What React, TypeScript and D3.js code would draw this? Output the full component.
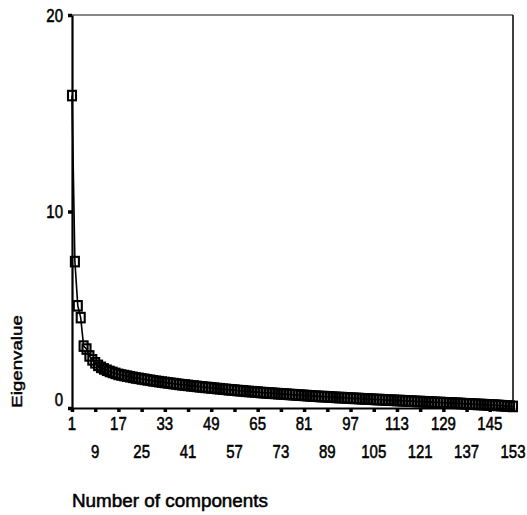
import React, { useEffect, useRef } from 'react';
import * as d3 from 'd3';

// eigenvalues, component 1..153
const eigenvalues: number[] = [
	15.9, 7.45, 5.2, 4.6, 3.15, 3.0, 2.65, 2.45, 2.3, 2.17,
	2.07, 1.99, 1.92, 1.86, 1.81, 1.76, 1.71, 1.68, 1.65, 1.62,
	1.59, 1.56, 1.53, 1.51, 1.48, 1.46, 1.43, 1.41, 1.38, 1.36,
	1.34, 1.32, 1.30, 1.28, 1.26, 1.24, 1.22, 1.20, 1.18, 1.17,
	1.15, 1.13, 1.12, 1.10, 1.08, 1.07, 1.05, 1.04, 1.02, 1.01,
	0.99, 0.98, 0.96, 0.95, 0.93, 0.92, 0.91, 0.89, 0.88, 0.87,
	0.85, 0.84, 0.83, 0.82, 0.81, 0.79, 0.78, 0.77, 0.76, 0.75,
	0.74, 0.73, 0.72, 0.71, 0.70, 0.69, 0.68, 0.67, 0.66, 0.65,
	0.64, 0.63, 0.62, 0.61, 0.60, 0.59, 0.58, 0.58, 0.57, 0.56,
	0.55, 0.54, 0.53, 0.53, 0.52, 0.51, 0.50, 0.49, 0.49, 0.48,
	0.47, 0.46, 0.46, 0.45, 0.44, 0.43, 0.43, 0.42, 0.41, 0.40,
	0.40, 0.39, 0.38, 0.38, 0.37, 0.36, 0.35, 0.35, 0.34, 0.33,
	0.33, 0.32, 0.31, 0.31, 0.30, 0.29, 0.28, 0.28, 0.27, 0.26,
	0.26, 0.25, 0.24, 0.24, 0.23, 0.22, 0.21, 0.21, 0.20, 0.19,
	0.18, 0.18, 0.17, 0.16, 0.15, 0.15, 0.14, 0.13, 0.12, 0.11,
	0.10, 0.09, 0.08,
];
const components: number[] = eigenvalues.map((_, i) => i + 1);
const xTicks: number[] = [1, 9, 17, 25, 33, 41, 49, 57, 65, 73, 81, 89, 97, 105, 113, 121, 129, 137, 145, 153];
const yTicks: number[] = [0, 10, 20];
const xTitle = 'Number of components';
const yTitle = 'Eigenvalue';

const W = 527;
const H = 515;
const FONT = '"Liberation Sans", Arial, sans-serif';

const label = (g: any, x: number, y: number, text: string, anchor: string, size: number, sy = 1.2) =>
	g.append('text')
		.attr('transform', `translate(${ x },${ y }) scale(1,${ sy })`)
		.attr('text-anchor', anchor)
		.attr('font-family', FONT)
		.attr('font-size', size)
		.attr('fill', '#000')
		.attr('stroke', '#000')
		.attr('stroke-width', 0.45)
		.text(text);

const scree = (svgEl: SVGSVGElement) => {
	const svg = d3.select(svgEl);
	svg.selectAll('*').remove();
	const left = 72;
	const right = 513;
	const top = 15;
	const bottom = 408;
	const x = d3.scaleLinear().domain([1, 153]).range([left, right]);
	const y = d3.scaleLinear().domain([0, 20]).range([bottom, top]);
	const g = svg.append('g');

	// frame
	g.append('line').attr('x1', left).attr('x2', right).attr('y1', top).attr('y2', top)
		.attr('stroke', '#111').attr('stroke-width', 1.2);
	g.append('line').attr('x1', right).attr('x2', right).attr('y1', top).attr('y2', bottom)
		.attr('stroke', '#111').attr('stroke-width', 1.6);

	// axes
	const xAxis = g.append('g').attr('transform', `translate(0,${ bottom })`)
		.call(d3.axisBottom(x).tickValues(xTicks).tickSize(4).tickSizeOuter(0).tickFormat(() => ''));
	xAxis.select('.domain').attr('stroke', '#000').attr('stroke-width', 2.2);
	xAxis.selectAll('.tick line').attr('stroke', '#000').attr('stroke-width', 3.5);
	const yAxis = g.append('g').attr('transform', `translate(${ left },0)`)
		.call(d3.axisLeft(y).tickValues(yTicks).tickSize(4).tickSizeOuter(0).tickFormat(() => ''));
	yAxis.select('.domain').attr('stroke', '#000').attr('stroke-width', 2.2);
	yAxis.selectAll('.tick line').attr('stroke', '#000').attr('stroke-width', 3.5);

	// tick labels, staggered on two rows
	xTicks.forEach((t, i) => label(g, x(t), i % 2 === 0 ? 430 : 458, String(t), 'middle', 15));
	yTicks.forEach((t) => label(g, 63, y(t) + (t === 0 ? -2.5 : 6.5), String(t), 'end', 15));

	// titles
	label(g, left, 507, xTitle, 'start', 15.5, 1.15)
		.attr('textLength', 196).attr('lengthAdjust', 'spacingAndGlyphs');
	g.append('text')
		.attr('transform', `translate(22,361.5) rotate(-90) scale(1.25,1)`)
		.attr('text-anchor', 'middle')
		.attr('font-family', FONT)
		.attr('font-size', 15)
		.attr('stroke', '#000')
		.attr('stroke-width', 0.45)
		.text(yTitle);

	// curve + square markers
	const line = d3.line<number>().x((d, i) => x(components[i])).y((d) => y(d));
	g.append('path').datum(eigenvalues).attr('d', line)
		.attr('fill', 'none').attr('stroke', '#000').attr('stroke-width', 1.6);
	g.selectAll('rect.pt').data(eigenvalues).enter()
		.append('rect')
		.attr('class', 'pt')
		.attr('x', (d, i) => x(components[i]) - 4)
		.attr('y', (d) => y(d) - 4.75)
		.attr('width', 8)
		.attr('height', 9.5)
		.attr('fill', 'none')
		.attr('stroke', '#000')
		.attr('stroke-width', 2.1);
};

const App = () => {
	const ref = useRef<SVGSVGElement>(null);

	useEffect(() => {
		if (ref.current) scree(ref.current);
	});

	return (
		<svg ref={ ref } width={ W } height={ H }
			style={ { position: 'absolute', left: 0, top: 0, background: '#fff' } }/>
	);
};

export default App;
